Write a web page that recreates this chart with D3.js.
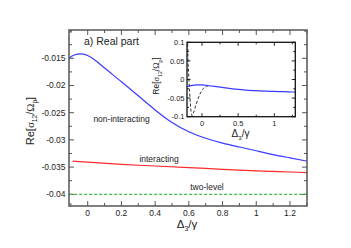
<!DOCTYPE html>
<html><head><meta charset="utf-8">
<script src="https://cdn.jsdelivr.net/npm/d3@7"></script>
<style>body{margin:0;background:#fff}svg{display:block}text{font-family:"Liberation Sans",Arial,sans-serif;fill:#222}</style>
</head><body>
<script>
// data
const blueX = [-0.2,-0.15,-0.11,-0.08,-0.04,0,0.05,0.1,0.2,0.3,0.4,0.5,0.6,0.7,0.8,0.9,1.0,1.1,1.2,1.3];
const blueY = [-0.0190,-0.0166,-0.0150,-0.0144,-0.0142,-0.0145,-0.0155,-0.0168,-0.0193,-0.0219,-0.0245,-0.0268,-0.0285,-0.0297,-0.0306,-0.0313,-0.0320,-0.0327,-0.0333,-0.0339];
const redX = [-0.09,0,0.2,0.4,0.6,0.8,1.0,1.2,1.3];
const redY = [-0.0339,-0.0341,-0.0345,-0.0348,-0.0351,-0.0354,-0.0357,-0.0359,-0.0360];
const greenX = [-0.11,1.3];
const greenY = [-0.04,-0.04];
const dashX = [-0.2,-0.19,-0.18,-0.17,-0.16,-0.15,-0.14,-0.13,-0.12,-0.1,-0.08,-0.05,-0.02,0.02,0.05,0.09,0.12];
const dashY = [0.11,0.04,0.0,-0.035,-0.065,-0.088,-0.097,-0.096,-0.091,-0.079,-0.066,-0.050,-0.036,-0.024,-0.019,-0.0168,-0.0172];
const mainXTicks = [0,0.2,0.4,0.6,0.8,1,1.2];
const mainXTickLabels = ["0","0.2","0.4","0.6","0.8","1","1.2"];
const mainYTicks = [-0.015,-0.02,-0.025,-0.03,-0.035,-0.04];
const mainYTickLabels = ["-0.015","-0.02","-0.025","-0.03","-0.035","-0.04"];
const insetXTicks = [0,0.5,1];
const insetXTickLabels = ["0","0.5","1"];
const insetYTicks = [0.1,0.05,0,-0.05,-0.1];
const insetYTickLabels = ["0.1","0.05","0","-0.05","-0.1"];

const W=351,H=248;
const svg=d3.select("body").append("svg").attr("width",W).attr("height",H);
const defs=svg.append("defs");

// main plot
const M={l:69,t:30,r:307,b:206};
const x=d3.scaleLinear().domain([-0.111,1.301]).range([M.l,M.r]);
const y=d3.scaleLinear().domain([-0.04215,-0.0098]).range([M.b,M.t]);
defs.append("clipPath").attr("id","cm").append("rect").attr("x",M.l).attr("y",M.t).attr("width",M.r-M.l).attr("height",M.b-M.t);

const frameCol="#555";
function ticks(g,xs,ys,xMaj,xMin,yMaj,yMin,L,l,col){
  const [x0,x1]=xs.range(),[y0,y1]=ys.range();
  xMaj.forEach(v=>{[[y0,-L],[y1,L]].forEach(([yy,d])=>g.append("line").attr("x1",xs(v)).attr("x2",xs(v)).attr("y1",yy).attr("y2",yy+d).attr("stroke",col).attr("stroke-width",1));});
  xMin.forEach(v=>{[[y0,-l],[y1,l]].forEach(([yy,d])=>g.append("line").attr("x1",xs(v)).attr("x2",xs(v)).attr("y1",yy).attr("y2",yy+d).attr("stroke",col).attr("stroke-width",1));});
  yMaj.forEach(v=>{[[x0,L],[x1,-L]].forEach(([xx,d])=>g.append("line").attr("y1",ys(v)).attr("y2",ys(v)).attr("x1",xx).attr("x2",xx+d).attr("stroke",col).attr("stroke-width",1));});
  yMin.forEach(v=>{[[x0,l],[x1,-l]].forEach(([xx,d])=>g.append("line").attr("y1",ys(v)).attr("y2",ys(v)).attr("x1",xx).attr("x2",xx+d).attr("stroke",col).attr("stroke-width",1));});
}
const gm=svg.append("g");
const xMinMain=d3.range(-0.1,1.31,0.1).map(v=>+v.toFixed(2)).filter(v=>!mainXTicks.some(t=>Math.abs(t-v)<1e-6));
const yMinMain=d3.range(-0.0425,-0.0099,0.0025).map(v=>+v.toFixed(4)).filter(v=>!mainYTicks.some(t=>Math.abs(t-v)<1e-7)&&v>-0.04215&&v<-0.0098);
ticks(gm,x,y,mainXTicks,xMinMain,mainYTicks,yMinMain,5,3,frameCol);

const line=(xs,ys,c)=>d3.line().x(d=>xs(d[0])).y(d=>ys(d[1])).curve(c||d3.curveMonotoneX);
const zip=(a,b)=>a.map((v,i)=>[v,b[i]]);
const gc=gm.append("g").attr("clip-path","url(#cm)");
gc.append("path").attr("d",line(x,y)(zip(greenX,greenY))).attr("fill","none").attr("stroke","#44bb44").attr("stroke-width",1.2).attr("stroke-dasharray","3,2");
gc.append("path").attr("d",line(x,y)(zip(redX,redY))).attr("fill","none").attr("stroke","#ff2a2a").attr("stroke-width",1.2);
gc.append("path").attr("d",line(x,y,d3.curveNatural)(zip(blueX,blueY))).attr("fill","none").attr("stroke","#3a3aff").attr("stroke-width",1.2);

gm.append("rect").attr("x",M.l).attr("y",M.t).attr("width",M.r-M.l).attr("height",M.b-M.t).attr("fill","none").attr("stroke",frameCol).attr("stroke-width",1.5);

mainXTicks.forEach((v,i)=>gm.append("text").attr("x",x(v)).attr("y",215.5).attr("text-anchor","middle").attr("font-size",8.5).text(mainXTickLabels[i]));
mainYTicks.forEach((v,i)=>gm.append("text").attr("x",65.5).attr("y",y(v)+3).attr("text-anchor","end").attr("font-size",8.5).text(mainYTickLabels[i]));

function reLabel(g,cx,cy,fs){
  const t=g.append("text").attr("transform",`translate(${cx},${cy}) rotate(-90)`).attr("text-anchor","middle").attr("font-size",fs);
  t.append("tspan").text("Re[");
  t.append("tspan").attr("font-family","Liberation Serif").text("σ");
  t.append("tspan").attr("font-size",fs*0.6).attr("dy",fs*0.3).text("12");
  t.append("tspan").attr("dy",-fs*0.3).text("/");
  t.append("tspan").attr("font-family","Liberation Serif").text("Ω");
  t.append("tspan").attr("font-size",fs*0.6).attr("dy",fs*0.3).text("p");
  t.append("tspan").attr("dy",-fs*0.3).text("]");
}
function dLabel(g,cx,cy,fs){
  const t=g.append("text").attr("x",cx).attr("y",cy).attr("text-anchor","middle").attr("font-size",fs).attr("font-family","Liberation Serif");
  t.append("tspan").text("Δ");
  t.append("tspan").attr("font-size",fs*0.6).attr("dy",fs*0.3).text("3");
  t.append("tspan").attr("dy",-fs*0.3).text("/γ");
}
reLabel(gm,34,121,11);
dLabel(gm,187,228,11.5);

gm.append("text").attr("x",84).attr("y",45).attr("font-size",10.5).text("a) Real part");
gm.append("text").attr("x",121.5).attr("y",121.5).attr("text-anchor","middle").attr("font-size",8.5).text("non-interacting");
gm.append("text").attr("x",159).attr("y",161.5).attr("text-anchor","middle").attr("font-size",8.5).text("interacting");
gm.append("text").attr("x",207).attr("y",189.5).attr("text-anchor","middle").attr("font-size",8.5).text("two-level");

// inset
const I={l:187,t:42.3,r:295.3,b:116.7};
const xi=d3.scaleLinear().domain([-0.207,1.29]).range([I.l,I.r]);
const yi=d3.scaleLinear().domain([-0.1,0.1]).range([I.b,I.t]);
defs.append("clipPath").attr("id","ci").append("rect").attr("x",I.l).attr("y",I.t).attr("width",I.r-I.l).attr("height",I.b-I.t);
const gi=svg.append("g");
gi.append("rect").attr("x",I.l).attr("y",I.t).attr("width",I.r-I.l).attr("height",I.b-I.t).attr("fill","#fff");
ticks(gi,xi,yi,insetXTicks,[0.25,0.75,1.25],insetYTicks,[0.075,0.025,-0.025,-0.075],3.5,2,"#222");
const gic=gi.append("g").attr("clip-path","url(#ci)");
gic.append("path").attr("d",line(xi,yi)(zip(dashX,dashY))).attr("fill","none").attr("stroke","#333").attr("stroke-width",1).attr("stroke-dasharray","3,2");
gic.append("path").attr("d",line(xi,yi,d3.curveNatural)(zip(blueX,blueY))).attr("fill","none").attr("stroke","#3a3aff").attr("stroke-width",1.2);
gi.append("rect").attr("x",I.l).attr("y",I.t).attr("width",I.r-I.l).attr("height",I.b-I.t).attr("fill","none").attr("stroke","#111").attr("stroke-width",1.3);
insetXTicks.forEach((v,i)=>gi.append("text").attr("x",xi(v)).attr("y",125.5).attr("text-anchor","middle").attr("font-size",7.5).text(insetXTickLabels[i]));
insetYTicks.forEach((v,i)=>gi.append("text").attr("x",184.5).attr("y",yi(v)+2.7).attr("text-anchor","end").attr("font-size",7.5).text(insetYTickLabels[i]));
reLabel(gi,159,76,8.5);
dLabel(gi,240.5,137,10);
</script>
</body></html>
